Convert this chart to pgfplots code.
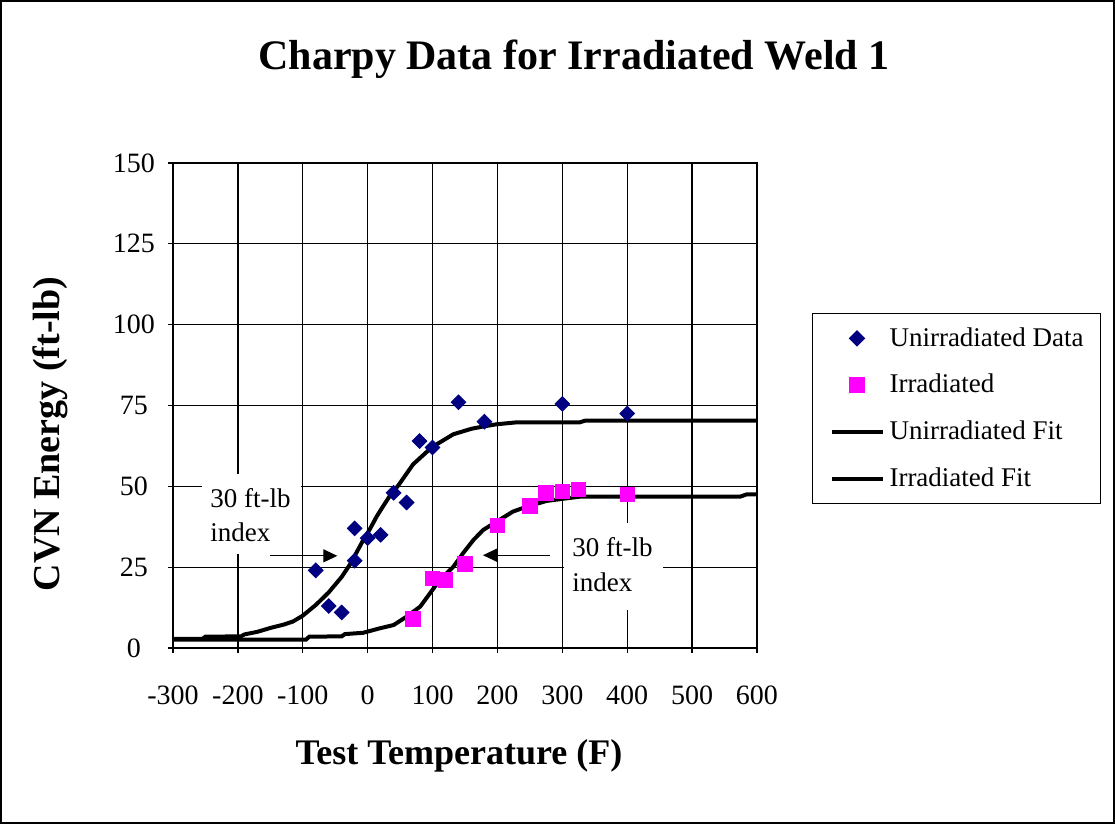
\documentclass[border=0pt]{standalone}
\usepackage{fontspec}
\setmainfont{Liberation Serif}
\usepackage{pgfplots}
\pgfplotsset{compat=1.18}
\usetikzlibrary{arrows.meta}
\definecolor{navyblue}{RGB}{0,0,128}
\definecolor{mag}{RGB}{255,0,255}
\begin{document}
\begin{tikzpicture}
\path[use as bounding box] (-86.5pt,-88pt) rectangle (471pt,324pt);
\draw[line width=0.7pt] (-86pt,-87.5pt) rectangle (470.5pt,323.5pt);
\begin{axis}[
  at={(0pt,0pt)}, anchor=south west,
  scale only axis, width=292pt, height=242.5pt,
  xmin=-300, xmax=600, ymin=0, ymax=150,
  xtick={-300,-200,...,600}, ytick={0,25,...,150},
  xticklabels={-300,-200,-100,0,100,200,300,400,500,600},
  xtick pos=bottom, ytick pos=left,
  grid=major, major grid style={black, line width=0.65pt},
  axis line style={black, line width=0.65pt},
  tick style={black, line width=0.65pt}, tick align=outside, major tick length=2.5pt,
  ticklabel style={font=\fontsize{14}{16}\selectfont},
  /pgf/number format/assume math mode=true,
  yticklabel style={anchor=center, xshift=-17pt},
  xticklabel style={anchor=base, yshift=-26pt},
  clip=true,
  legend style={at={(axis description cs:1.094,0.691)}, anchor=north west, draw=black,
    line width=0.65pt, font=\fontsize{13.5}{15}\selectfont, inner xsep=8.5pt, inner ysep=7pt,
    row sep=12.5pt, nodes={inner sep=0pt, anchor=west},
    /tikz/every odd column/.append style={column sep=2.5pt}},
  legend cell align=left,
  legend image code/.code={\draw[mark repeat=2,mark phase=2,#1] plot coordinates {(0pt,0pt) (12.75pt,0pt) (25.5pt,0pt)};},
]
\fill[white] (axis cs:-255,29.1) rectangle (axis cs:-102,53.8);
\fill[white] (axis cs:303,11.75) rectangle (axis cs:455,38.7);

\addplot[only marks, mark=square*, mark size=2.6pt, color=navyblue,
  mark options={rotate=45, fill=navyblue, draw=navyblue}] coordinates {
(-80,24) (-60,13) (-40,11) (-20,37) (-20,27) (0,34) (20,35) (40,48) (60,45)
(80,64) (100,62) (140,76) (180,70) (300,75.5) (400,72.5)
};
\addlegendentry{Unirradiated Data}
\addplot[only marks, mark=square*, mark size=3.6pt, color=mag,
  mark options={fill=mag, draw=mag}] coordinates {
(70,9) (100,21.5) (120,21) (150,26) (200,38) (250,44) (275,48) (300,48.5) (325,49) (400,47.5)
};
\addlegendentry{Irradiated}
\addplot[black, line width=2pt] coordinates {
(-300,2.8) (-255,2.8) (-250,3.5) (-195,3.6) (-190,4.2) (-170,5.0) (-150,6.2) (-130,7.2)
(-115,8.2) (-100,10.0) (-80,13.3) (-60,17.2) (-40,22.0) (-27,25.9) (-17,29.6) (-7,33.3)
(4,37.0) (14,40.7) (24,43.9) (35,47.3) (47,50.2) (70,56.8) (99,62.1) (132,66.1)
(160,67.8) (178,68.5) (199,69.2) (230,69.8) (327,69.8) (335,70.3) (600,70.3)
};
\addlegendentry{Unirradiated Fit}
\addplot[black, line width=2pt] coordinates {
(-300,2.6) (-95,2.6) (-90,3.5) (-40,3.6) (-35,4.3) (-7,4.7) (19,6.1) (40,7.1) (60,9.7)
(81,12.8) (96,16.9) (111,21.0) (132,25.1) (147,29.3) (163,33.4) (178,36.5) (199,39.1)
(224,42.2) (245,43.7) (276,45.5) (307,46.3) (327,46.8) (574,46.8) (584,47.5) (600,47.5)
};
\addlegendentry{Irradiated Fit}

\draw[-{Triangle[length=7pt,width=6.5pt]}, line width=0.6pt] (axis cs:-150.5,28.5) -- (axis cs:-46.7,28.5);
\draw[-{Triangle[length=7pt,width=6.5pt]}, line width=0.6pt] (axis cs:281,28.7) -- (axis cs:177.7,28.7);
\node[anchor=base west, inner sep=0pt, font=\fontsize{13.5}{15}\selectfont] at (axis cs:-243,43.5) {30 ft-lb};
\node[anchor=base west, inner sep=0pt, font=\fontsize{13.5}{15}\selectfont] at (axis cs:-243,32.9) {index};
\node[anchor=base west, inner sep=0pt, font=\fontsize{13.5}{15}\selectfont] at (axis cs:314.8,28.2) {30 ft-lb};
\node[anchor=base west, inner sep=0pt, font=\fontsize{13.5}{15}\selectfont] at (axis cs:314.8,17.6) {index};
\end{axis}
\node[anchor=base, inner sep=0pt, font=\bfseries\fontsize{21}{25}\selectfont] at (200.5pt,289pt) {Charpy Data for Irradiated Weld 1};
\node[anchor=base, inner sep=0pt, font=\bfseries\fontsize{18}{22}\selectfont] at (143pt,-58.5pt) {Test Temperature (F)};
\node[anchor=base, rotate=90, inner sep=0pt, font=\bfseries\fontsize{19}{22}\selectfont] at (-56.5pt,107pt) {CVN Energy (ft-lb)};
\end{tikzpicture}
\end{document}
